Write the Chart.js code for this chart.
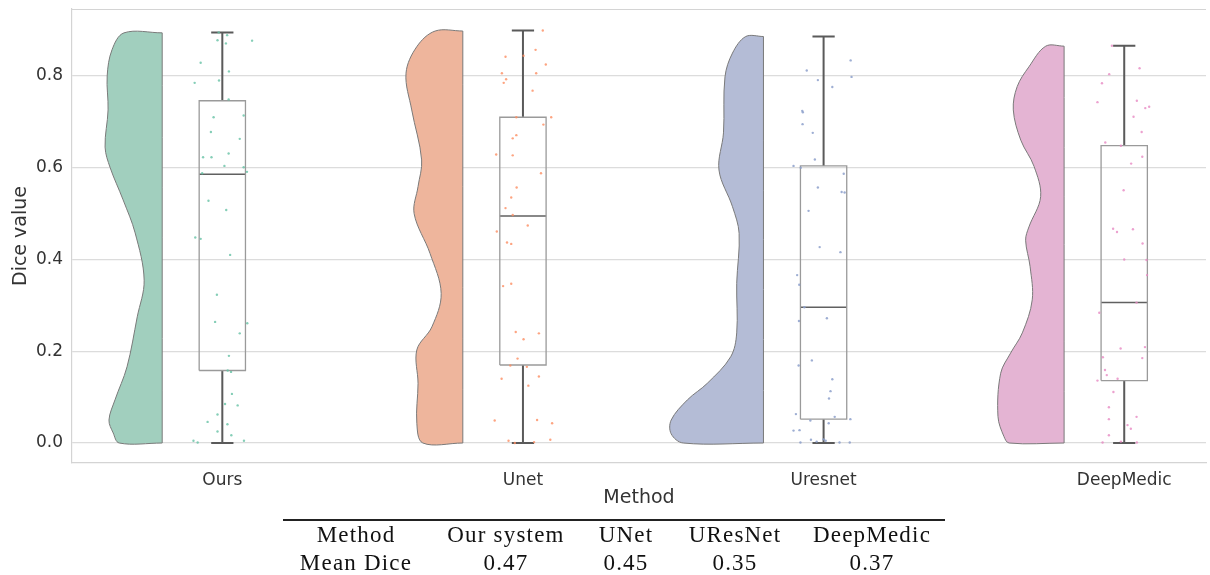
<!DOCTYPE html>
<html>
<head>
<meta charset="utf-8">
<script src="https://cdn.jsdelivr.net/npm/chart.js@4.4.1/dist/chart.umd.min.js"></script>
<style>
  body { margin: 0; background: #fff; }
  #wrap { position: relative; width: 1210px; height: 575px; }
  #table { position: absolute; left: 0; top: 0; width: 1210px; height: 575px; pointer-events: none;
           font-family: "Liberation Serif", "DejaVu Serif", serif; font-size: 23px; color: #111; letter-spacing: 1.2px; }
  #table .rule { position: absolute; left: 283px; top: 519px; width: 662px; height: 1.6px; background: #222; }
  #table span { position: absolute; line-height: 23px; white-space: nowrap; transform: translateX(-50%); }
</style>
</head>
<body>
<div id="wrap">
  <canvas id="myChart" width="1210" height="575"></canvas>
  <div id="table"><div class="rule"></div></div>
</div>
<script>
const methods = ['Ours', 'Unet', 'Uresnet', 'DeepMedic'];
const colors = ['rgba(102,194,165,0.8)', 'rgba(252,141,98,0.8)', 'rgba(141,160,203,0.85)', 'rgba(231,138,195,0.8)'];
const violinColors = ['#a1cfbe', '#eeb59c', '#b4bcd6', '#e4b4d3'];
const yTicks = [0, 0.2, 0.4, 0.6, 0.8];

// box stats: min, q1, median, q3, max
const boxMin = [0, 0, 0, 0];
const boxQ1 = [0.158, 0.170, 0.052, 0.136];
const boxMed = [0.586, 0.495, 0.296, 0.306];
const boxQ3 = [0.746, 0.710, 0.604, 0.648];
const boxMax = [0.895, 0.899, 0.886, 0.866];

// half violin profile (value, width in category units)
const violinY = [
  [0, 0.022, 0.05, 0.094, 0.166, 0.275, 0.355, 0.458, 0.53, 0.60, 0.645, 0.726, 0.80, 0.857, 0.894],
  [0, 0.043, 0.13, 0.203, 0.253, 0.326, 0.413, 0.50, 0.559, 0.617, 0.726, 0.806, 0.864, 0.898],
  [0, 0.02, 0.05, 0.094, 0.13, 0.188, 0.24, 0.348, 0.457, 0.515, 0.595, 0.676, 0.798, 0.85, 0.886],
  [0, 0.014, 0.058, 0.152, 0.196, 0.24, 0.312, 0.384, 0.442, 0.471, 0.537, 0.603, 0.66, 0.726, 0.777, 0.82, 0.865]
];
const violinW = [
  [0.143, 0.163, 0.177, 0.157, 0.117, 0.083, 0.060, 0.090, 0.130, 0.173, 0.190, 0.180, 0.183, 0.167, 0.127],
  [0.133, 0.153, 0.149, 0.153, 0.103, 0.072, 0.109, 0.162, 0.149, 0.137, 0.170, 0.189, 0.153, 0.092],
  [0.267, 0.307, 0.307, 0.253, 0.187, 0.109, 0.089, 0.089, 0.081, 0.103, 0.148, 0.133, 0.128, 0.103, 0.059],
  [0.183, 0.200, 0.220, 0.211, 0.178, 0.139, 0.106, 0.113, 0.128, 0.117, 0.078, 0.100, 0.144, 0.169, 0.156, 0.117, 0.061]
];

// strip points: values and horizontal jitter (category units)
const pointsY = [
  [0.895, 0.889, 0.878, 0.871, 0.877, 0.829, 0.810, 0.785, 0.790, 0.749, 0.710, 0.714, 0.678, 0.663, 0.623, 0.623, 0.631, 0.604, 0.601, 0.588, 0.591, 0.528, 0.508, 0.448, 0.445, 0.410, 0.323, 0.264, 0.261, 0.239, 0.190, 0.158, 0.155, 0.107, 0.085, 0.082, 0.062, 0.046, 0.041, 0.025, 0.017, 0.005, 0.001, 0.005],
  [0.899, 0.857, 0.842, 0.844, 0.825, 0.806, 0.806, 0.793, 0.785, 0.768, 0.710, 0.710, 0.694, 0.671, 0.664, 0.629, 0.627, 0.588, 0.557, 0.535, 0.512, 0.497, 0.474, 0.461, 0.437, 0.434, 0.342, 0.347, 0.242, 0.239, 0.226, 0.184, 0.169, 0.166, 0.140, 0.145, 0.125, 0.049, 0.050, 0.043, 0.005, 0.002, 0.007, 0.0],
  [0.812, 0.791, 0.834, 0.798, 0.776, 0.724, 0.721, 0.695, 0.676, 0.618, 0.604, 0.600, 0.587, 0.557, 0.547, 0.546, 0.506, 0.427, 0.416, 0.366, 0.345, 0.296, 0.272, 0.266, 0.180, 0.169, 0.139, 0.113, 0.097, 0.063, 0.057, 0.049, 0.052, 0.043, 0.027, 0.028, 0.007, 0.003, 0.008, 0.005, 0.001, 0.001, 0.001],
  [0.866, 0.817, 0.804, 0.784, 0.743, 0.746, 0.730, 0.733, 0.711, 0.678, 0.655, 0.648, 0.624, 0.609, 0.551, 0.467, 0.460, 0.466, 0.435, 0.400, 0.399, 0.366, 0.284, 0.306, 0.206, 0.209, 0.187, 0.185, 0.159, 0.148, 0.136, 0.140, 0.111, 0.078, 0.052, 0.057, 0.039, 0.031, 0.017, 0.001, 0.003, 0.001]
];
const pointsJitter = [
  [-0.012, 0.016, -0.016, 0.012, 0.099, -0.072, 0.022, -0.092, -0.011, 0.021, -0.029, 0.071, -0.038, 0.058, -0.064, -0.036, 0.021, 0.007, 0.071, -0.067, 0.082, -0.046, 0.013, -0.090, -0.072, 0.026, -0.018, -0.024, 0.083, 0.058, 0.022, 0.018, 0.029, 0.032, 0.009, 0.051, -0.016, -0.049, 0.017, -0.016, 0.030, -0.096, -0.082, 0.072],
  [0.066, 0.042, -0.058, 0.002, 0.076, -0.070, 0.044, -0.056, -0.064, 0.032, -0.022, 0.094, 0.068, -0.022, -0.034, -0.089, -0.034, 0.060, -0.021, -0.039, -0.058, -0.034, 0.016, -0.087, -0.053, -0.039, -0.066, -0.039, -0.024, 0.053, 0.002, -0.018, -0.042, 0.013, -0.071, 0.053, 0.018, -0.094, 0.047, 0.097, -0.048, 0.037, 0.091, -0.027],
  [-0.056, -0.019, 0.090, 0.093, 0.029, -0.071, -0.069, -0.070, -0.036, -0.029, -0.100, -0.076, 0.067, -0.019, 0.060, 0.070, -0.050, -0.013, 0.056, -0.088, -0.081, -0.064, 0.011, -0.082, -0.039, -0.083, 0.029, 0.023, 0.018, -0.092, 0.037, -0.044, 0.089, 0.017, -0.100, -0.080, -0.042, -0.023, 0.000, 0.007, -0.077, 0.053, 0.087],
  [-0.041, 0.051, -0.050, -0.074, -0.089, 0.042, 0.070, 0.083, 0.031, 0.058, -0.063, -0.011, 0.060, 0.023, -0.002, -0.037, -0.024, 0.029, 0.061, 0.000, 0.074, 0.076, -0.083, 0.041, -0.012, 0.069, -0.071, 0.060, -0.064, -0.058, -0.089, -0.022, -0.036, -0.051, -0.051, 0.041, 0.011, 0.022, -0.051, -0.072, -0.011, 0.042]
];

// table below the plot
const tableHead = ['Method', 'Our system', 'UNet', 'UResNet', 'DeepMedic'];
const tableRow = ['Mean Dice', '0.47', '0.45', '0.35', '0.37'];

const violinOffset = -0.2;
const boxHalf = 0.077;
const capHalf = 0.037;

const datasets = [];

methods.forEach((m, i) => {
    // violin polygon
    const flat = i + violinOffset;
    const ys = violinY[i];
    const top = ys[ys.length - 1];
    const poly = [{x: flat, y: 0}, {x: flat, y: 0}];
    ys.forEach((y, k) => poly.push({x: flat - violinW[i][k], y: y}));
    poly.push({x: flat, y: top}, {x: flat, y: top}, {x: flat, y: 0}, {x: flat, y: 0});
    datasets.push({
        type: 'line', data: poly, order: 3,
        borderColor: '#7a7a7a', borderWidth: 1, backgroundColor: violinColors[i],
        fill: 'shape', tension: 0.35, pointRadius: 0
    });

    // box
    datasets.push({
        type: 'line', order: 2, pointRadius: 0, borderColor: '#9a9a9a', borderWidth: 1.3, fill: false,
        data: [
            {x: i - boxHalf, y: boxQ1[i]}, {x: i + boxHalf, y: boxQ1[i]},
            {x: i + boxHalf, y: boxQ3[i]}, {x: i - boxHalf, y: boxQ3[i]},
            {x: i - boxHalf, y: boxQ1[i]}
        ]
    });
    // median
    datasets.push({
        type: 'line', order: 2, pointRadius: 0, borderColor: '#606060', borderWidth: 1.5, fill: false,
        data: [{x: i - boxHalf, y: boxMed[i]}, {x: i + boxHalf, y: boxMed[i]}]
    });
    // whiskers and caps
    datasets.push({
        type: 'line', order: 2, pointRadius: 0, borderColor: '#5a5a5a', borderWidth: 2, fill: false, spanGaps: false,
        data: [
            {x: i, y: boxQ3[i]}, {x: i, y: boxMax[i]}, {x: i, y: null},
            {x: i - capHalf, y: boxMax[i]}, {x: i + capHalf, y: boxMax[i]}, {x: i, y: null},
            {x: i, y: boxQ1[i]}, {x: i, y: boxMin[i]}, {x: i, y: null},
            {x: i - capHalf, y: boxMin[i]}, {x: i + capHalf, y: boxMin[i]}
        ]
    });
    // strip points
    datasets.push({
        type: 'scatter', order: 1,
        data: pointsY[i].map((y, k) => ({x: i + pointsJitter[i][k], y: y})),
        pointRadius: 1.2, pointBorderWidth: 0, backgroundColor: colors[i], borderColor: colors[i]
    });
});

// top frame line
const frameTop = {
    id: 'frameTop',
    afterDraw(chart) {
        const a = chart.chartArea, c = chart.ctx;
        c.save();
        c.strokeStyle = '#d4d4d4';
        c.lineWidth = 1.2;
        c.beginPath();
        c.moveTo(a.left, a.top + 0.5);
        c.lineTo(a.right, a.top + 0.5);
        c.stroke();
        c.restore();
    }
};

const ctx = document.getElementById('myChart').getContext('2d');
new Chart(ctx, {
    data: { datasets: datasets },
    options: {
        responsive: false,
        animation: false,
        events: [],
        layout: { padding: { top: 9, left: 0, right: 0, bottom: 62 } },
        plugins: { legend: { display: false }, tooltip: { enabled: false } },
        scales: {
            x: {
                type: 'linear', min: -0.5, max: 3.272,
                afterBuildTicks: s => { s.ticks = methods.map((_, i) => ({value: i})); },
                afterFit: s => { s.height = 50; s.paddingLeft = 0; s.paddingRight = 0; },
                grid: { display: false, drawTicks: false },
                border: { color: '#d4d4d4', width: 1.2 },
                ticks: {
                    padding: 7, color: '#333', font: { family: 'DejaVu Sans', size: 17 },
                    callback: v => methods[v]
                },
                title: { display: true, text: 'Method', color: '#333', padding: { top: 4 }, font: { family: 'DejaVu Sans', size: 19 } }
            },
            y: {
                type: 'linear', min: -0.0436, max: 0.946,
                afterBuildTicks: s => { s.ticks = yTicks.map(v => ({value: v})); },
                afterFit: s => { s.width = 72; s.paddingTop = 0; s.paddingBottom = 0; },
                grid: { color: '#dcdcdc', lineWidth: 1.2, drawTicks: false },
                border: { color: '#d4d4d4', width: 1.2 },
                ticks: {
                    padding: 9, color: '#333', font: { family: 'DejaVu Sans', size: 17 },
                    callback: v => v.toFixed(1)
                },
                title: { display: true, text: 'Dice value', color: '#333', padding: { top: 10, bottom: 0 }, font: { family: 'DejaVu Sans', size: 19 } }
            }
        }
    },
    plugins: [frameTop]
});

// table text
const tableCenters = [356, 506, 626, 735, 872];
const tbl = document.getElementById('table');
function addCell(text, x, top) {
    const s = document.createElement('span');
    s.textContent = text;
    s.style.left = x + 'px';
    s.style.top = top + 'px';
    tbl.appendChild(s);
}
tableHead.forEach((t, k) => addCell(t, tableCenters[k], 523));
tableRow.forEach((t, k) => addCell(t, tableCenters[k], 551));
</script>
</body>
</html>
